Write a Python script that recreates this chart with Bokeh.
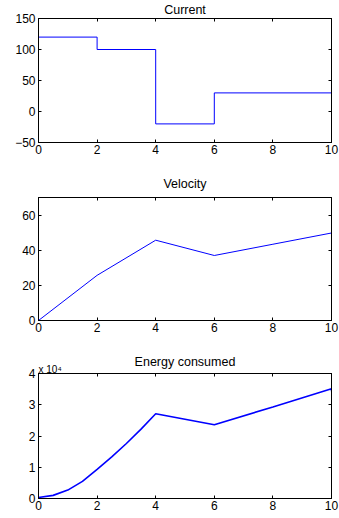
from bokeh.plotting import figure
from bokeh.layouts import column
from bokeh.models import FixedTicker, LinearAxis, Title, Range1d
from bokeh.embed import file_html
from bokeh.resources import INLINE

# ---- data ----
x_ticks = [0, 2, 4, 6, 8, 10]

current_t = [0, 2, 4, 6, 10, 10]
current_a = [120, 100, -20, 30, 30, 17]
current_yticks = [-50, 0, 50, 100, 150]

velocity_t = [0, 2, 4, 6, 8, 10]
velocity_v = [0, 25.7, 45.7, 37.0, 43.4, 49.8]
velocity_yticks = [0, 20, 40, 60]

energy_t = [0, 0.5, 1, 1.5, 2, 2.5, 3, 3.5, 4, 6, 8, 10, 10]
energy_e = [300, 1000, 2700, 5500, 9300, 13300, 17600, 22200, 27100,
            23600, 29300, 35100, 34300]
energy_yticks = [0, 10000, 20000, 30000, 40000]
energy_ylabels = {0: "0", 10000: "1", 20000: "2", 30000: "3", 40000: "4"}

FONT = "Liberation Sans"
BLUE = "#0000ff"


def make_fig(y0, y1, yticks, btop, fh, bbot, title, title_standoff, overrides=None,
             extra_title=None):
    p = figure(frame_width=293, frame_height=fh,
               min_border_left=38, min_border_right=8,
               min_border_top=btop, min_border_bottom=bbot,
               x_range=Range1d(0, 10), y_range=Range1d(y0, y1),
               output_backend="svg", toolbar_location=None, title=title)
    p.title.align = "center"
    p.title.text_font = FONT
    p.title.text_font_size = "12.5px"
    p.title.text_font_style = "normal"
    p.title.text_color = "black"
    p.title.standoff = title_standoff

    p.xgrid.visible = False
    p.ygrid.visible = False
    p.outline_line_color = "black"
    p.outline_line_alpha = 1
    p.outline_line_width = 1
    p.background_fill_color = "white"
    p.border_fill_color = "white"

    p.xaxis.ticker = FixedTicker(ticks=x_ticks)
    p.yaxis.ticker = FixedTicker(ticks=yticks)
    if overrides:
        p.yaxis.major_label_overrides = overrides

    for ax in (p.xaxis[0], p.yaxis[0]):
        ax.major_tick_in = 3
        ax.major_tick_out = 0
        ax.minor_tick_line_color = None
        ax.axis_line_color = "black"
        ax.major_tick_line_color = "black"
        ax.major_label_text_font = FONT
        ax.major_label_text_font_size = "12px"
        ax.major_label_text_color = "black"
    p.xaxis.major_label_standoff = 2
    p.yaxis.major_label_standoff = 3

    # mirrored ticks on top and right (no visible labels)
    top = LinearAxis(ticker=FixedTicker(ticks=x_ticks), major_tick_in=3,
                     major_tick_out=0, minor_tick_line_color=None,
                     major_label_text_color=None, major_label_text_font_size="1px",
                     major_label_standoff=0)
    right = LinearAxis(ticker=FixedTicker(ticks=yticks), major_tick_in=3,
                       major_tick_out=0, minor_tick_line_color=None,
                       major_label_text_color=None, major_label_text_font_size="1px",
                       major_label_standoff=0)
    p.add_layout(top, "above")
    p.add_layout(right, "right")
    if extra_title is not None:
        p.add_layout(extra_title, "above")
    return p


p1 = make_fig(-50, 150, current_yticks, 18, 124, 24, "Current", 0,
              overrides={-50: "\u221250"})
p1.title.vertical_align = "top"
p1.step(current_t, current_a, mode="after", line_color=BLUE, line_width=1)

p2 = make_fig(0, 70, velocity_yticks, 31, 123, 25, "Velocity", 12.5)
p2.line(velocity_t, velocity_v, line_color=BLUE, line_width=1)

exp_title = Title(text="x 10\u2074", align="left", standoff=-2,
                  text_font=FONT, text_font_size="10px",
                  text_font_style="normal", text_color="black")
p3 = make_fig(0, 40000, energy_yticks, 28, 125, 15, "Energy consumed", -12,
              overrides=energy_ylabels, extra_title=exp_title)
p3.line(energy_t, energy_e, line_color=BLUE, line_width=1.6)

layout = column(p1, p2, p3, spacing=0)

open("out.html", "w").write(file_html(layout, INLINE))
